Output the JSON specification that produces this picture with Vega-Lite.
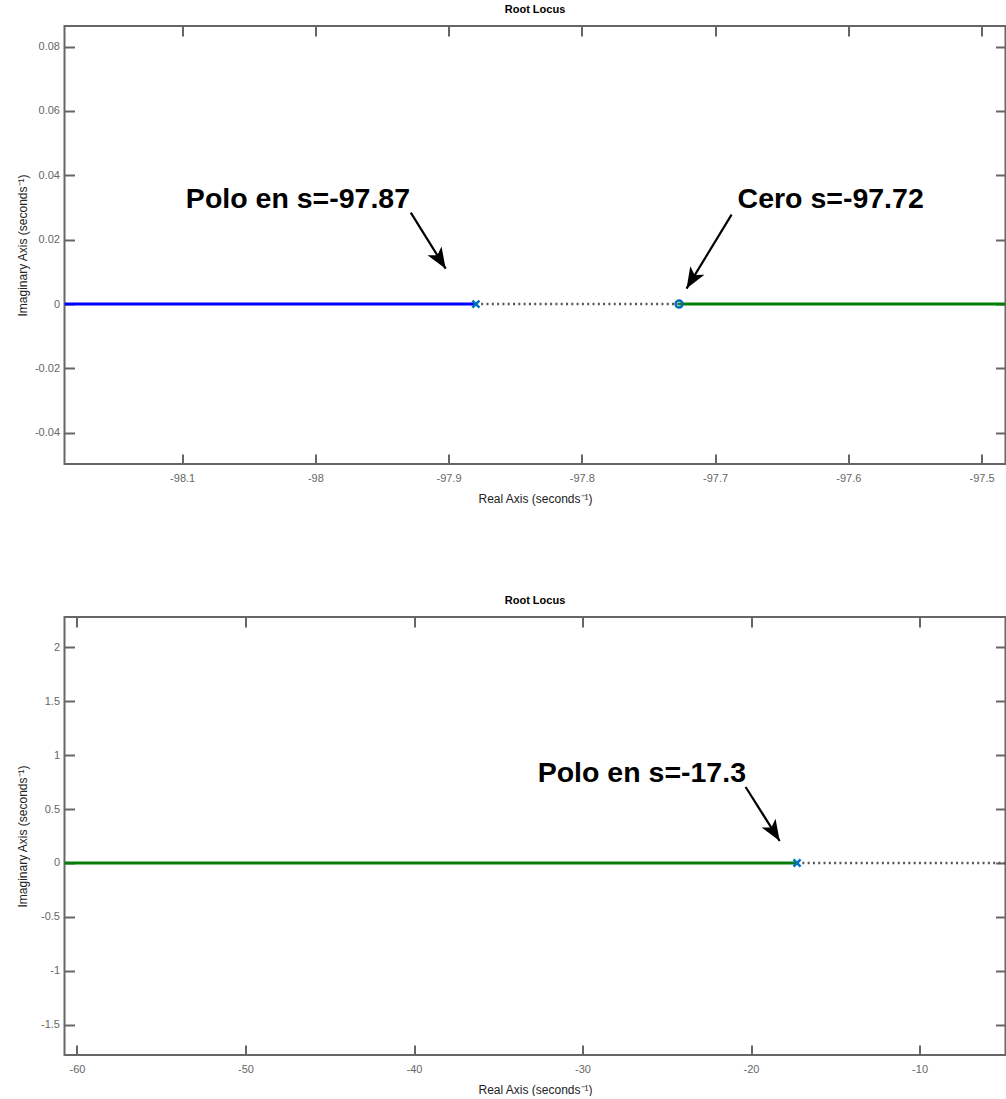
{
  "$schema": "https://vega.github.io/schema/vega-lite/v6.json",
  "background": "white",
  "padding": {"left": 15.5, "top": 3, "right": 0, "bottom": 0},
  "spacing": 89,
  "config": {
    "view": {"stroke": "#666666", "strokeWidth": 2},
    "axis": {"grid": false, "domain": false, "tickColor": "#666666", "tickWidth": 2, "tickSize": -10,
      "labelFont": "Liberation Sans", "labelFontSize": 11, "labelColor": "#666666",
      "titleFont": "Liberation Sans", "titleFontSize": 12, "titleFontWeight": "normal", "titleColor": "#222222"},
    "title": {"font": "Liberation Sans", "fontSize": 11, "fontWeight": "bold", "color": "#000000", "offset": 10}
  },
  "vconcat": [
    {
      "width": 941, "height": 438,
      "title": "Root Locus",
      "resolve": {"axis": {"x": "independent", "y": "independent"}},
      "layer": [
        {
          "data": {"values": [{"x": -98.1883, "x2": -97.8795, "y": 0}]},
          "mark": {"type": "rule", "color": "#0000ff", "strokeWidth": 3, "clip": true},
          "encoding": {
            "x": {"field": "x", "type": "quantitative", "scale": {"domain": [-98.1883, -97.482], "nice": false, "zero": false},
              "axis": {"orient": "bottom", "values": [-98.1, -98, -97.9, -97.8, -97.7, -97.6, -97.5], "labelExpr": "toString(datum.value)", "labelPadding": 18, "title": "Real Axis (seconds⁻¹)", "titleY": 34, "titleBaseline": "middle"}},
            "x2": {"field": "x2"},
            "y": {"field": "y", "type": "quantitative", "scale": {"domain": [-0.0497, 0.0864], "nice": false, "zero": false},
              "axis": {"orient": "left", "values": [-0.04, -0.02, 0, 0.02, 0.04, 0.06, 0.08], "labelExpr": "toString(datum.value)", "labelPadding": 15, "title": "Imaginary Axis (seconds⁻¹)", "titleX": -42, "titleBaseline": "middle"}}
          }
        },
        {
          "data": {"values": [{"x": -97.8795, "x2": -97.727, "y": 0}]},
          "mark": {"type": "rule", "color": "#555555", "strokeWidth": 2.5, "strokeDash": [2, 3.3], "clip": true},
          "encoding": {
            "x": {"field": "x", "type": "quantitative", "scale": {"domain": [-98.1883, -97.482], "nice": false, "zero": false},
              "axis": {"orient": "top", "values": [-98.1, -98, -97.9, -97.8, -97.7, -97.6, -97.5], "labels": false, "title": null}},
            "x2": {"field": "x2"},
            "y": {"field": "y", "type": "quantitative", "scale": {"domain": [-0.0497, 0.0864], "nice": false, "zero": false},
              "axis": {"orient": "right", "values": [-0.04, -0.02, 0, 0.02, 0.04, 0.06, 0.08], "labels": false, "title": null}}
          }
        },
        {
          "data": {"values": [{"x": -97.727, "x2": -97.482, "y": 0}]},
          "mark": {"type": "rule", "color": "#008000", "strokeWidth": 3, "clip": true},
          "encoding": {
            "x": {"field": "x", "type": "quantitative", "scale": {"domain": [-98.1883, -97.482], "nice": false, "zero": false}, "axis": null},
            "x2": {"field": "x2"},
            "y": {"field": "y", "type": "quantitative", "scale": {"domain": [-0.0497, 0.0864], "nice": false, "zero": false}, "axis": null}
          }
        },
        {
          "data": {"values": [{"x": -97.8795, "y": 0}]},
          "mark": {"type": "point", "shape": "M-1,-1L1,1M1,-1L-1,1", "filled": false, "stroke": "#0072bd", "strokeWidth": 2.5, "size": 50, "opacity": 1, "clip": true},
          "encoding": {
            "x": {"field": "x", "type": "quantitative", "scale": {"domain": [-98.1883, -97.482], "nice": false, "zero": false}, "axis": null},
            "y": {"field": "y", "type": "quantitative", "scale": {"domain": [-0.0497, 0.0864], "nice": false, "zero": false}, "axis": null}
          }
        },
        {
          "data": {"values": [{"x": -97.727, "y": 0}]},
          "mark": {"type": "point", "shape": "circle", "filled": false, "stroke": "#0072bd", "strokeWidth": 2.5, "size": 50, "opacity": 1, "clip": true},
          "encoding": {
            "x": {"field": "x", "type": "quantitative", "scale": {"domain": [-98.1883, -97.482], "nice": false, "zero": false}, "axis": null},
            "y": {"field": "y", "type": "quantitative", "scale": {"domain": [-0.0497, 0.0864], "nice": false, "zero": false}, "axis": null}
          }
        },
        {
          "data": {"values": [{"x": -97.9284, "y": 0.0284, "x2": -97.9022, "y2": 0.0110}]},
          "mark": {"type": "rule", "color": "#000000", "strokeWidth": 2.2},
          "encoding": {
            "x": {"field": "x", "type": "quantitative", "scale": {"domain": [-98.1883, -97.482], "nice": false, "zero": false}, "axis": null},
            "y": {"field": "y", "type": "quantitative", "scale": {"domain": [-0.0497, 0.0864], "nice": false, "zero": false}, "axis": null},
            "x2": {"field": "x2"}, "y2": {"field": "y2"}
          }
        },
        {
          "data": {"values": [{"x": -97.9022, "y": 0.0110}]},
          "mark": {"type": "point", "shape": "M0,0L0.55,1.4L0,1.05L-0.55,1.4Z", "filled": true, "color": "#000000", "opacity": 1, "size": 900, "angle": 148},
          "encoding": {
            "x": {"field": "x", "type": "quantitative", "scale": {"domain": [-98.1883, -97.482], "nice": false, "zero": false}, "axis": null},
            "y": {"field": "y", "type": "quantitative", "scale": {"domain": [-0.0497, 0.0864], "nice": false, "zero": false}, "axis": null}
          }
        },
        {
          "data": {"values": [{"x": -97.6876, "y": 0.0278, "x2": -97.7214, "y2": 0.0048}]},
          "mark": {"type": "rule", "color": "#000000", "strokeWidth": 2.2},
          "encoding": {
            "x": {"field": "x", "type": "quantitative", "scale": {"domain": [-98.1883, -97.482], "nice": false, "zero": false}, "axis": null},
            "y": {"field": "y", "type": "quantitative", "scale": {"domain": [-0.0497, 0.0864], "nice": false, "zero": false}, "axis": null},
            "x2": {"field": "x2"}, "y2": {"field": "y2"}
          }
        },
        {
          "data": {"values": [{"x": -97.7214, "y": 0.0048}]},
          "mark": {"type": "point", "shape": "M0,0L0.55,1.4L0,1.05L-0.55,1.4Z", "filled": true, "color": "#000000", "opacity": 1, "size": 900, "angle": 211},
          "encoding": {
            "x": {"field": "x", "type": "quantitative", "scale": {"domain": [-98.1883, -97.482], "nice": false, "zero": false}, "axis": null},
            "y": {"field": "y", "type": "quantitative", "scale": {"domain": [-0.0497, 0.0864], "nice": false, "zero": false}, "axis": null}
          }
        },
        {
          "data": {"values": [{"x": -98.0972, "y": 0.0299, "label": "Polo en s=-97.87"}, {"x": -97.6831, "y": 0.0299, "label": "Cero s=-97.72"}]},
          "mark": {"type": "text", "align": "left", "baseline": "alphabetic", "font": "Liberation Sans", "fontSize": 28.5, "fontWeight": "bold", "color": "#000000"},
          "encoding": {
            "x": {"field": "x", "type": "quantitative", "scale": {"domain": [-98.1883, -97.482], "nice": false, "zero": false}, "axis": null},
            "y": {"field": "y", "type": "quantitative", "scale": {"domain": [-0.0497, 0.0864], "nice": false, "zero": false}, "axis": null},
            "text": {"field": "label"}
          }
        }
      ]
    },
    {
      "width": 941, "height": 438,
      "title": "Root Locus",
      "resolve": {"axis": {"x": "independent", "y": "independent"}},
      "layer": [
        {
          "data": {"values": [{"x": -60.74, "x2": -17.27, "y": 0}]},
          "mark": {"type": "rule", "color": "#008000", "strokeWidth": 3, "clip": true},
          "encoding": {
            "x": {"field": "x", "type": "quantitative", "scale": {"domain": [-60.74, -4.9], "nice": false, "zero": false},
              "axis": {"orient": "bottom", "values": [-60, -50, -40, -30, -20, -10], "labelExpr": "toString(datum.value)", "labelPadding": 18, "title": "Real Axis (seconds⁻¹)", "titleY": 34, "titleBaseline": "middle"}},
            "x2": {"field": "x2"},
            "y": {"field": "y", "type": "quantitative", "scale": {"domain": [-1.778, 2.278], "nice": false, "zero": false},
              "axis": {"orient": "left", "values": [-1.5, -1, -0.5, 0, 0.5, 1, 1.5, 2], "labelExpr": "toString(datum.value)", "labelPadding": 15, "title": "Imaginary Axis (seconds⁻¹)", "titleX": -42, "titleBaseline": "middle"}}
          }
        },
        {
          "data": {"values": [{"x": -17.27, "x2": -4.9, "y": 0}]},
          "mark": {"type": "rule", "color": "#555555", "strokeWidth": 2.5, "strokeDash": [2, 3.3], "clip": true},
          "encoding": {
            "x": {"field": "x", "type": "quantitative", "scale": {"domain": [-60.74, -4.9], "nice": false, "zero": false},
              "axis": {"orient": "top", "values": [-60, -50, -40, -30, -20, -10], "labels": false, "title": null}},
            "x2": {"field": "x2"},
            "y": {"field": "y", "type": "quantitative", "scale": {"domain": [-1.778, 2.278], "nice": false, "zero": false},
              "axis": {"orient": "right", "values": [-1.5, -1, -0.5, 0, 0.5, 1, 1.5, 2], "labels": false, "title": null}}
          }
        },
        {
          "data": {"values": [{"x": -60.74, "x2": -17.27, "y": 0}]},
          "mark": {"type": "rule", "color": "#555555", "opacity": 0.3, "strokeWidth": 2, "strokeDash": [2, 3.3], "clip": true},
          "encoding": {
            "x": {"field": "x", "type": "quantitative", "scale": {"domain": [-60.74, -4.9], "nice": false, "zero": false}, "axis": null},
            "x2": {"field": "x2"},
            "y": {"field": "y", "type": "quantitative", "scale": {"domain": [-1.778, 2.278], "nice": false, "zero": false}, "axis": null}
          }
        },
        {
          "data": {"values": [{"x": -17.27, "y": 0}]},
          "mark": {"type": "point", "shape": "M-1,-1L1,1M1,-1L-1,1", "filled": false, "stroke": "#0072bd", "strokeWidth": 2.5, "size": 50, "opacity": 1, "clip": true},
          "encoding": {
            "x": {"field": "x", "type": "quantitative", "scale": {"domain": [-60.74, -4.9], "nice": false, "zero": false}, "axis": null},
            "y": {"field": "y", "type": "quantitative", "scale": {"domain": [-1.778, 2.278], "nice": false, "zero": false}, "axis": null}
          }
        },
        {
          "data": {"values": [{"x": -20.32, "y": 0.704, "x2": -18.30, "y2": 0.204}]},
          "mark": {"type": "rule", "color": "#000000", "strokeWidth": 2.2},
          "encoding": {
            "x": {"field": "x", "type": "quantitative", "scale": {"domain": [-60.74, -4.9], "nice": false, "zero": false}, "axis": null},
            "y": {"field": "y", "type": "quantitative", "scale": {"domain": [-1.778, 2.278], "nice": false, "zero": false}, "axis": null},
            "x2": {"field": "x2"}, "y2": {"field": "y2"}
          }
        },
        {
          "data": {"values": [{"x": -18.30, "y": 0.204}]},
          "mark": {"type": "point", "shape": "M0,0L0.55,1.4L0,1.05L-0.55,1.4Z", "filled": true, "color": "#000000", "opacity": 1, "size": 900, "angle": 148},
          "encoding": {
            "x": {"field": "x", "type": "quantitative", "scale": {"domain": [-60.74, -4.9], "nice": false, "zero": false}, "axis": null},
            "y": {"field": "y", "type": "quantitative", "scale": {"domain": [-1.778, 2.278], "nice": false, "zero": false}, "axis": null}
          }
        },
        {
          "data": {"values": [{"x": -32.66, "y": 0.750, "label": "Polo en s=-17.3"}]},
          "mark": {"type": "text", "align": "left", "baseline": "alphabetic", "font": "Liberation Sans", "fontSize": 28.5, "fontWeight": "bold", "color": "#000000"},
          "encoding": {
            "x": {"field": "x", "type": "quantitative", "scale": {"domain": [-60.74, -4.9], "nice": false, "zero": false}, "axis": null},
            "y": {"field": "y", "type": "quantitative", "scale": {"domain": [-1.778, 2.278], "nice": false, "zero": false}, "axis": null},
            "text": {"field": "label"}
          }
        }
      ]
    }
  ]
}
